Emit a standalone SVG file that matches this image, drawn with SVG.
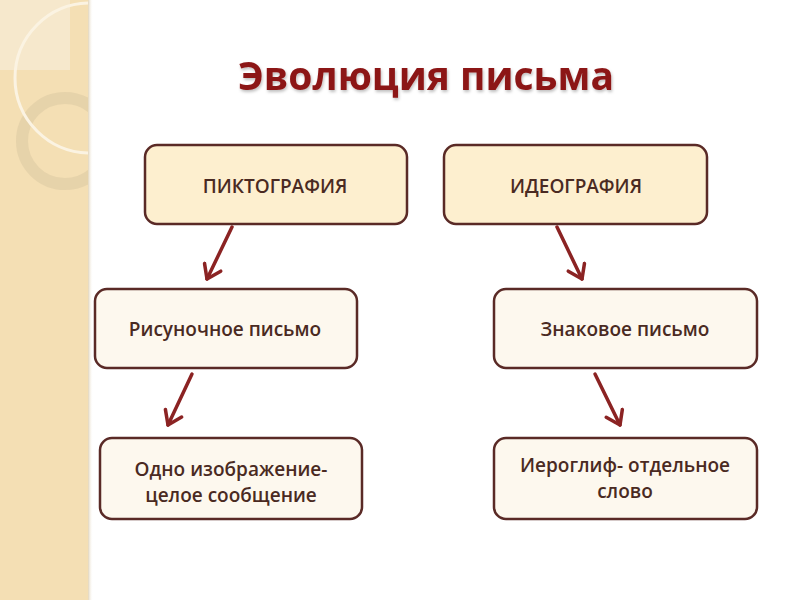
<svg xmlns="http://www.w3.org/2000/svg" width="800" height="600" viewBox="0 0 800 600">
<defs>
<style>
.box{stroke:#5a2a26;stroke-width:2.5}
.top{fill:#fdefcf}
.low{fill:#fdf8ee}
.lbl{font-family:"Open Sans","Noto Sans",sans-serif;font-size:19px;font-weight:600;fill:#4a2a22;text-anchor:middle}
.conn{stroke:#8b2323;stroke-width:3.5;fill:none;stroke-linecap:round}
</style>
<marker id="ah" markerUnits="userSpaceOnUse" markerWidth="30" markerHeight="30" viewBox="-15 -15 30 30" refX="0" refY="0" orient="auto">
<path d="M-13,-9 L0,0 L-13,9" fill="none" stroke="#8b2323" stroke-width="3.5" stroke-linecap="round" stroke-linejoin="round"/>
</marker>
<clipPath id="strip"><rect x="0" y="0" width="88" height="600"/></clipPath>
<filter id="sh" x="-5%" y="-20%" width="110%" height="150%">
<feDropShadow dx="1" dy="2" stdDeviation="1.5" flood-color="#000" flood-opacity="0.25"/>
</filter>
<linearGradient id="edge" x1="0" y1="0" x2="1" y2="0">
<stop offset="0" stop-color="#d9c9a8" stop-opacity="0.8"/>
<stop offset="1" stop-color="#ffffff" stop-opacity="0"/>
</linearGradient>
</defs>
<rect width="800" height="600" fill="#ffffff"/>
<g id="strip-bg" clip-path="url(#strip)">
<rect x="0" y="0" width="88" height="600" fill="#f4dfb4"/>
<rect x="0" y="0" width="70" height="70" fill="#f6ead2" opacity="0.8"/>
<circle cx="65" cy="141" r="43" fill="none" stroke="#e2cfa8" stroke-width="12" opacity="0.8"/>
<circle cx="90" cy="78" r="75" fill="none" stroke="#fbf3e2" stroke-width="3"/>
</g>
<rect x="88" y="0" width="5" height="600" fill="url(#edge)"/>
<text x="426" y="90" font-family="Open Sans, Noto Sans, sans-serif" font-weight="bold" font-size="39" fill="#8c1515" text-anchor="middle" filter="url(#sh)">Эволюция письма</text>
<g id="connectors">
<line class="conn" x1="232" y1="227" x2="207" y2="279" marker-end="url(#ah)"/>
<line class="conn" x1="557" y1="227" x2="582" y2="279" marker-end="url(#ah)"/>
<line class="conn" x1="192" y1="374" x2="168" y2="425" marker-end="url(#ah)"/>
<line class="conn" x1="595" y1="374" x2="620" y2="425" marker-end="url(#ah)"/>
</g>
<g id="n1">
<rect class="box top" x="145" y="145" width="262" height="79" rx="12"/>
<text class="lbl" x="275" y="193">ПИКТОГРАФИЯ</text>
</g>
<g id="n2">
<rect class="box top" x="444" y="145" width="263" height="79" rx="12"/>
<text class="lbl" x="576" y="193">ИДЕОГРАФИЯ</text>
</g>
<g id="n3">
<rect class="box low" x="95" y="289" width="262" height="79" rx="12"/>
<text class="lbl" x="225" y="336">Рисуночное письмо</text>
</g>
<g id="n4">
<rect class="box low" x="494" y="289" width="263" height="79" rx="12"/>
<text class="lbl" x="625" y="336">Знаковое письмо</text>
</g>
<g id="n5">
<rect class="box low" x="100" y="438" width="262" height="81" rx="12"/>
<text class="lbl" x="231" y="476">Одно изображение-</text>
<text class="lbl" x="231" y="502">целое сообщение</text>
</g>
<g id="n6">
<rect class="box low" x="494" y="438" width="263" height="81" rx="12"/>
<text class="lbl" x="625" y="472">Иероглиф- отдельное</text>
<text class="lbl" x="625" y="498">слово</text>
</g>
</svg>
